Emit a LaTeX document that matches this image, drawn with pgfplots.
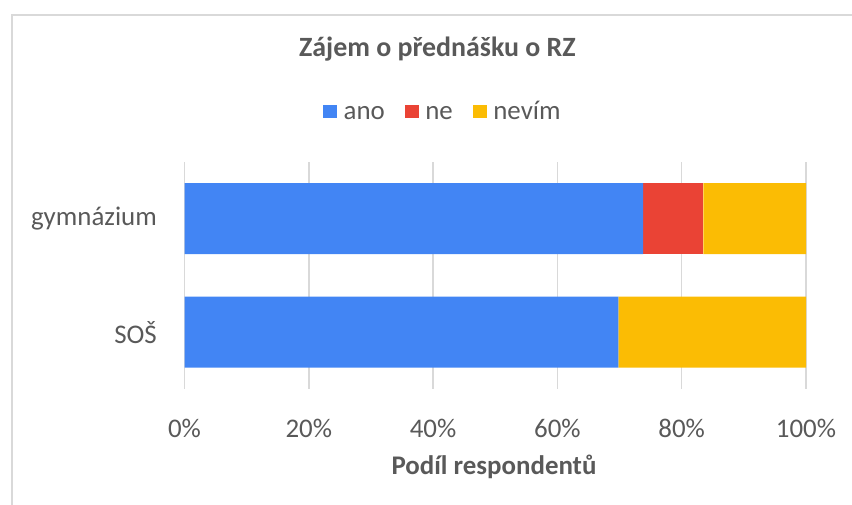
\documentclass[border=0pt]{standalone}
\usepackage{fontspec}
\setmainfont{Carlito}
\usepackage{pgfplots}
\pgfplotsset{compat=1.18}
\definecolor{cano}{HTML}{4285F4}
\definecolor{cne}{HTML}{EA4335}
\definecolor{cnevim}{HTML}{FBBC04}
\definecolor{txt}{HTML}{595959}
\definecolor{gridc}{HTML}{D9D9D9}
\begin{document}
\begin{tikzpicture}
\useasboundingbox (0,0) rectangle (852bp,505bp);
\draw[gridc, line width=2bp] (11.5bp,0) -- (11.5bp,490bp) -- (852bp,490bp);
\begin{axis}[
  at={(184.5bp,116bp)}, anchor=south west,
  scale only axis, width=621.5bp, height=227bp,
  xbar stacked, bar width=71bp,
  xmin=0, xmax=100, ymin=-0.5, ymax=1.5,
  xtick={0,20,...,100},
  xticklabel={\pgfmathprintnumber{\tick}\%},
  /pgf/number format/assume math mode=true,
  ytick={0,1}, yticklabels={SOŠ,gymnázium},
  axis line style={draw=none},
  major tick length=0pt,
  xmajorgrids, ymajorgrids=false,
  major grid style={gridc, line width=1.5bp},
  ticklabel style={font=\fontsize{27}{32}\selectfont, text=txt},
  xticklabel style={anchor=north, inner sep=0pt, yshift=-30bp},
  yticklabel style={anchor=east, inner sep=0pt, xshift=-27.5bp},
  title={\bfseries Zájem o přednášku o RZ},
  title style={at={(axis description cs:0.407,1.471)}, anchor=center, font=\fontsize{28}{33}\selectfont, text=txt},
  xlabel={\bfseries Podíl respondentů},
  xlabel style={at={(axis description cs:0.498,-0.344)}, anchor=center, font=\fontsize{27}{32}\selectfont, text=txt},
  legend columns=3,
  legend style={at={(axis description cs:0.4157,1.216)}, anchor=center, draw=none, fill=none,
    font=\fontsize{27}{32}\selectfont, text=txt,
    nodes={inner sep=2bp, text height=19bp, text depth=6bp},
    /tikz/every odd column/.append style={column sep=4.5bp},
    /tikz/every even column/.append style={column sep=18bp}},
  legend image code/.code={\fill[#1] (0bp,-5.5bp) rectangle (14bp,7.5bp);},
]
\addplot[fill=cano, draw=none] coordinates {(69.8,0) (73.8,1)};
\addplot[fill=cne, draw=none] coordinates {(0,0) (9.7,1)};
\addplot[fill=cnevim, draw=none] coordinates {(30.2,0) (16.5,1)};
\legend{ano,ne,nevím}
\end{axis}
\end{tikzpicture}
\end{document}
